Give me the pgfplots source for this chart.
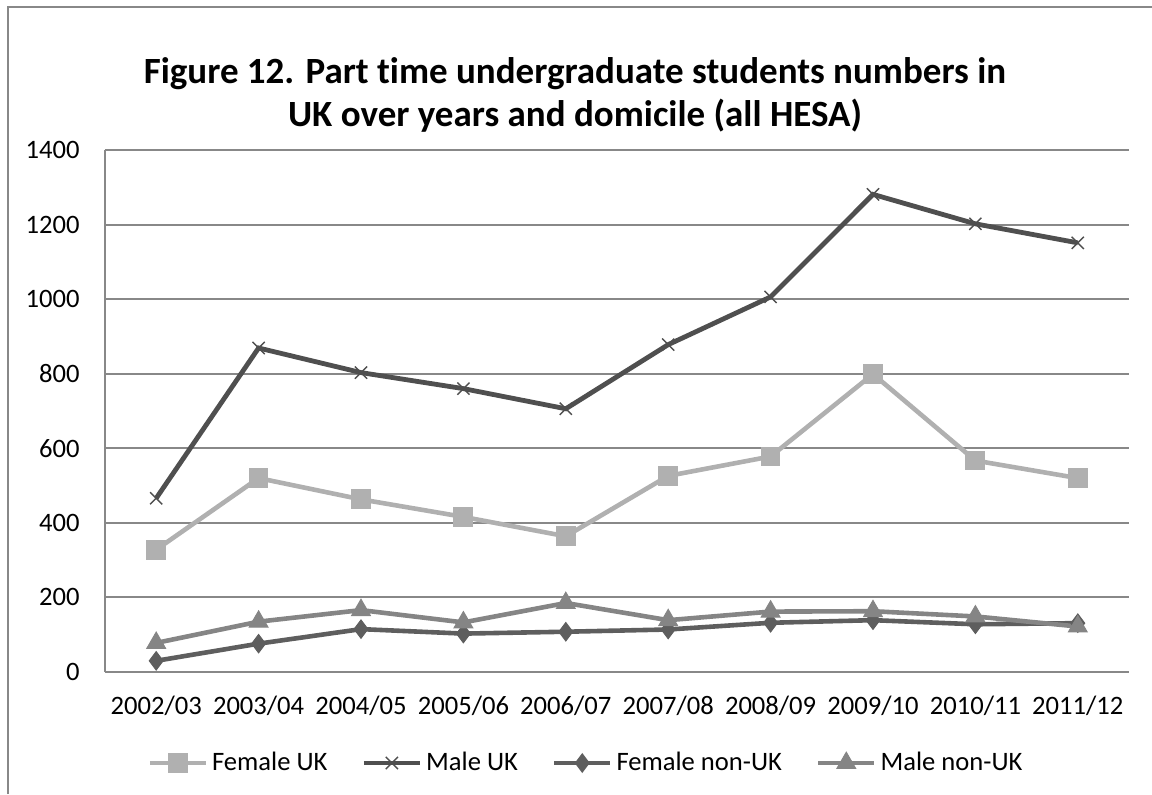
\documentclass[border=0pt]{standalone}
\usepackage{pgfplots}
\pgfplotsset{compat=1.18}
\usepackage{fontspec}
\setmainfont{Carlito}[Ligatures=NoCommon]

\definecolor{gridgray}{HTML}{888888}
\definecolor{femuk}{HTML}{B0B0B0}
\definecolor{maleuk}{HTML}{4F4F4F}
\definecolor{femnon}{HTML}{5E5E5E}
\definecolor{malenon}{HTML}{858585}

\pgfplotstableread{
x  femuk maleuk femnon malenon
0  328   466    30     78
1  520   869    76     135
2  463   803    115    166
3  416   760    103    133
4  364   706    108    185
5  526   878    114    139
6  578   1006   132    162
7  799   1281   139    163
8  567   1202   128    149
9  520   1151   131    122
}\datatable

\begin{document}
\begin{tikzpicture}
\useasboundingbox (0,0) rectangle (576pt,397pt);
% outer chart frame
\draw[gridgray, line width=1pt] (4pt,0) -- (4pt,393.5pt) -- (576pt,393.5pt);
% title
\node[anchor=base, font=\fontsize{18.5}{22}\selectfont\bfseries] at (287.5pt,355pt)
  {Figure 12. Part time undergraduate students numbers in};
\node[anchor=base, font=\fontsize{18.5}{22}\selectfont\bfseries] at (287.5pt,333.5pt)
  {UK over years and domicile (all HESA)};
\begin{axis}[
  scale only axis,
  width=512pt, height=261pt,
  at={(52.5pt,61pt)}, anchor=south west,
  xmin=-0.5, xmax=9.5,
  ymin=0, ymax=1400,
  xtick={0,...,9},
  xticklabels={2002/03,2003/04,2004/05,2005/06,2006/07,2007/08,2008/09,2009/10,2010/11,2011/12},
  ytick={0,200,...,1400},
  /pgf/number format/1000 sep={},
  /pgf/number format/assume math mode=true,
  ticklabel style={font=\fontsize{13.3}{15}\selectfont, inner sep=0pt},
  yticklabel style={xshift=-12.5pt},
  xticklabel style={anchor=center, yshift=-17pt},
  major tick length=0pt,
  axis lines*=left,
  axis line style={gridgray, line width=1pt},
  ymajorgrids,
  grid style={gridgray, line width=1pt},
  clip=false,
  legend columns=4,
  legend style={at={(axis description cs:0.5,0)}, anchor=center,
    xshift=-15pt, yshift=-45.5pt, draw=none, fill=none,
    font=\fontsize{13.3}{15}\selectfont, inner sep=0pt,
    /tikz/every odd column/.append style={column sep=0pt},
    /tikz/every even column/.append style={column sep=15pt}},
  legend cell align=left,
  legend image code/.code={
    \draw[mark repeat=2, mark phase=2]
      plot coordinates {(0pt,0pt) (14pt,0pt) (28pt,0pt)};},
]
\addplot[femuk, line width=2.3pt, mark=square*, mark size=4.7pt,
  mark options={solid, line width=0.5pt, fill=femuk}]
  table[x=x, y=femuk] {\datatable};
\addlegendentry{Female UK}
\addplot[maleuk, line width=2.4pt, mark=x, mark size=4.3pt,
  mark options={solid, line width=0.7pt}]
  table[x=x, y=maleuk] {\datatable};
\addlegendentry{Male UK}
\addplot[femnon, line width=2.3pt, mark=diamond*, mark size=4.6pt,
  mark options={solid, line width=0.5pt, fill=femnon}]
  table[x=x, y=femnon] {\datatable};
\addlegendentry{Female non-UK}
\addplot[malenon, line width=2.3pt, mark=triangle*, mark size=5.4pt,
  mark options={solid, line width=0.5pt, fill=malenon}]
  table[x=x, y=malenon] {\datatable};
\addlegendentry{Male non-UK}
\end{axis}
\end{tikzpicture}
\end{document}
